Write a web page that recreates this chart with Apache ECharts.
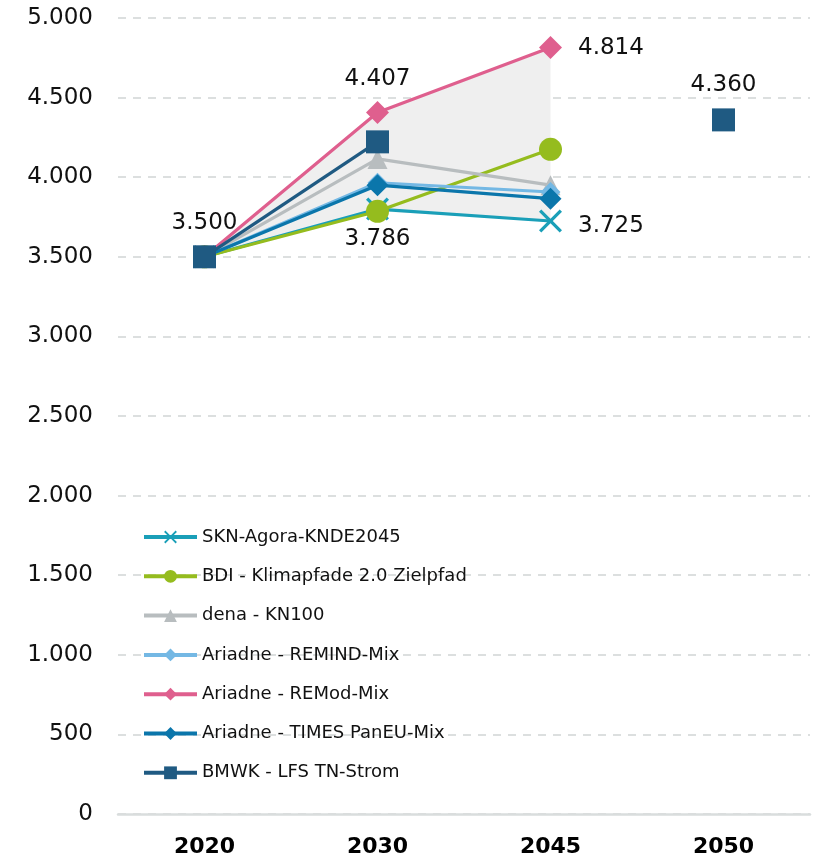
<!DOCTYPE html>
<html>
<head>
<meta charset="utf-8">
<style>
  html, body { margin: 0; padding: 0; background: #fff; }
  #chart { width: 820px; height: 861px; }
</style>
<script src="https://cdn.jsdelivr.net/npm/echarts@6/dist/echarts.min.js"></script>
</head>
<body>
<div id="chart"></div>
<script>
/* global echarts */

const years = ["2020", "2030", "2045", "2050"];
const yTicks = [0, 500, 1000, 1500, 2000, 2500, 3000, 3500, 4000, 4500, 5000];

const sknAgora = [3500, 3800, 3725, null];
const bdiKlima = [3500, 3786, 4175, null];
const denaKn100 = [3500, 4115, 3950, null];
const ariadneRemind = [3500, 3965, 3907, null];
const ariadneRemod = [3500, 4407, 4814, null];
const ariadneTimes = [3500, 3950, 3865, null];
const bmwkLfs = [3500, 4222, null, 4360];

const FONT = "DejaVu Sans";

function fmt(v) {
  return String(v).replace(/\B(?=(\d{3})+(?!\d))/g, ".");
}

// band between lowest and highest scenario per year (BMWK not part of it)
const bandSources = [sknAgora, bdiKlima, denaKn100, ariadneRemind, ariadneRemod, ariadneTimes];
const bandLow = years.map((_, i) => {
  const vals = bandSources.map((s) => s[i]).filter((v) => v != null);
  return vals.length ? Math.min(...vals) : null;
});
const bandSpan = years.map((_, i) => {
  const vals = bandSources.map((s) => s[i]).filter((v) => v != null);
  return vals.length ? Math.max(...vals) - Math.min(...vals) : null;
});

const labelStyle = {
  show: true,
  color: "#111",
  fontFamily: FONT,
  fontSize: 23,
  formatter: (p) => fmt(p.value),
};

function withLabels(values, labels) {
  return values.map((v, i) => {
    if (labels[i]) {
      return { value: v, label: Object.assign({}, labelStyle, labels[i]) };
    }
    return v;
  });
}

const xSymbol = "path://M1,0 L5,4 L9,0 L10,1 L6,5 L10,9 L9,10 L5,6 L1,10 L0,9 L4,5 L0,1 Z";

function scenario(name, values, color, symbol, size, labels) {
  return {
    name: name,
    type: "line",
    data: withLabels(values, labels || {}),
    symbol: symbol,
    symbolSize: size,
    showAllSymbol: true,
    connectNulls: false,
    lineStyle: { color: color, width: 3.2 },
    itemStyle: { color: color },
    label: { show: false },
    emphasis: { disabled: true },
  };
}

const series = [
  {
    name: "bandLow",
    type: "line",
    stack: "band",
    data: bandLow,
    symbol: "none",
    lineStyle: { opacity: 0 },
    silent: true,
  },
  {
    name: "bandSpan",
    type: "line",
    stack: "band",
    data: bandSpan,
    symbol: "none",
    lineStyle: { opacity: 0 },
    areaStyle: { color: "#efefef", opacity: 1 },
    silent: true,
  },
  scenario("SKN-Agora-KNDE2045", sknAgora, "#1a9fb8", xSymbol, 23, {
    2: { position: "right", distance: 16, offset: [0, 5] },
  }),
  scenario("BDI - Klimapfade 2.0 Zielpfad", bdiKlima, "#95bc1e", "circle", 23, {
    1: { position: "bottom", distance: 5 },
  }),
  scenario("dena - KN100", denaKn100, "#b8bdbf", "triangle", 20),
  scenario("Ariadne - REMIND-Mix", ariadneRemind, "#74b8e4", "diamond", 20),
  scenario("Ariadne - REMod-Mix", ariadneRemod, "#df5f8e", "diamond", 23, {
    1: { position: "top", distance: 10 },
    2: { position: "right", distance: 16 },
  }),
  scenario("Ariadne - TIMES PanEU-Mix", ariadneTimes, "#0b76ab", "diamond", 22),
  scenario("BMWK - LFS TN-Strom", bmwkLfs, "#1f5a82", "rect", 23, {
    0: { position: "top", distance: 11 },
    3: { position: "top", distance: 12 },
  }),
];

const chart = echarts.init(document.getElementById("chart"), null, { renderer: "canvas" });

chart.setOption({
  animation: false,
  grid: { left: 118, right: 10, top: 18, bottom: 47 },
  legend: {
    data: series.filter((s) => !s.name.startsWith("band")).map((s) => s.name),
    orient: "vertical",
    left: 142,
    top: 526,
    padding: 0,
    itemWidth: 53,
    itemHeight: 16,
    itemGap: 17.3,
    lineStyle: { width: 4 },
    textStyle: { fontFamily: FONT, fontSize: 18, color: "#111", lineHeight: 22 },
    selectedMode: false,
  },
  xAxis: {
    type: "category",
    data: years,
    boundaryGap: true,
    axisLine: { lineStyle: { color: "#d9dddd", width: 2.5 } },
    axisTick: { show: false },
    axisLabel: {
      fontFamily: FONT,
      fontWeight: "bold",
      fontSize: 22,
      color: "#000",
      margin: 22,
    },
  },
  yAxis: {
    type: "value",
    min: yTicks[0],
    max: yTicks[yTicks.length - 1],
    interval: yTicks[1] - yTicks[0],
    axisLine: { show: false },
    axisTick: { show: false },
    axisLabel: {
      fontFamily: FONT,
      fontSize: 23,
      color: "#111",
      margin: 25,
      formatter: (v) => fmt(v),
    },
    splitLine: {
      lineStyle: { color: "#dcdfdf", width: 2, type: [8, 7] },
    },
  },
  series: series,
});
</script>
</body>
</html>
